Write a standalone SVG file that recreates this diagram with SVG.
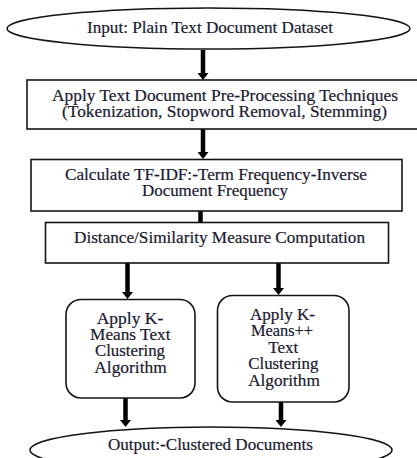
<svg xmlns="http://www.w3.org/2000/svg" width="417" height="458" viewBox="0 0 417 458">
  <style>
    .shape { fill: #ffffff; stroke: #141414; stroke-width: 1.6; }
    .lbl { font-family: "Liberation Serif", "Times New Roman", serif; font-size: 16px; fill: #1a1a30; stroke: #1a1a30; stroke-width: 0.2; text-anchor: middle; }
    .flow { stroke: #000000; stroke-width: 4.5; fill: none; }
  </style>
  <defs>
    <marker id="head" markerUnits="userSpaceOnUse" markerWidth="7" markerHeight="11" viewBox="0 0 7 11" refX="2" refY="5.5" orient="auto">
      <path d="M0,0 L7,5.5 L0,11 z" fill="#000000"/>
    </marker>
  </defs>

  <rect width="417" height="458" fill="#ffffff"/>

  <!-- connectors -->
  <g id="connectors">
    <line class="flow" x1="203" y1="50" x2="203" y2="75" marker-end="url(#head)"/>
    <line class="flow" x1="203" y1="129" x2="203" y2="154" marker-end="url(#head)"/>
    <line class="flow" x1="200.5" y1="211" x2="200.5" y2="222.5"/>
    <line class="flow" x1="127.5" y1="263" x2="127.5" y2="294" marker-end="url(#head)"/>
    <line class="flow" x1="278.5" y1="263" x2="278.5" y2="290" marker-end="url(#head)"/>
    <line class="flow" x1="125.5" y1="398" x2="125.5" y2="422" marker-end="url(#head)"/>
    <line class="flow" x1="281" y1="402" x2="281" y2="422" marker-end="url(#head)"/>
  </g>

  <!-- input terminal -->
  <g id="input">
    <ellipse class="shape" cx="208.5" cy="28.5" rx="201.5" ry="20.5"/>
    <text class="lbl" x="210" y="32.5" textLength="246" lengthAdjust="spacingAndGlyphs">Input: Plain Text Document Dataset</text>
  </g>

  <!-- pre-processing step -->
  <g id="preprocess">
    <rect class="shape" x="27" y="80" width="392" height="49"/>
    <text class="lbl" x="225" y="101" textLength="346" lengthAdjust="spacingAndGlyphs">Apply Text Document Pre-Processing Techniques</text>
    <text class="lbl" x="224.5" y="117" textLength="325" lengthAdjust="spacingAndGlyphs">(Tokenization, Stopword Removal, Stemming)</text>
  </g>

  <!-- TF-IDF step -->
  <g id="tfidf">
    <rect class="shape" x="31" y="159.5" width="371" height="51.5"/>
    <text class="lbl" x="216" y="180" textLength="302" lengthAdjust="spacingAndGlyphs">Calculate TF-IDF:-Term Frequency-Inverse</text>
    <text class="lbl" x="215" y="195.5" textLength="146" lengthAdjust="spacingAndGlyphs">Document Frequency</text>
  </g>

  <!-- similarity step -->
  <g id="similarity">
    <rect class="shape" x="45.5" y="222.5" width="343" height="40.5"/>
    <text class="lbl" x="219.5" y="243" textLength="291" lengthAdjust="spacingAndGlyphs">Distance/Similarity Measure Computation</text>
  </g>

  <!-- K-Means branch -->
  <g id="kmeans">
    <rect class="shape" x="66" y="299.5" width="129" height="98.5" rx="15" ry="15"/>
    <text class="lbl" x="130" y="324" textLength="66.5" lengthAdjust="spacingAndGlyphs">Apply K-</text>
    <text class="lbl" x="130.3" y="340" textLength="80.5" lengthAdjust="spacingAndGlyphs">Means Text</text>
    <text class="lbl" x="130" y="356" textLength="70" lengthAdjust="spacingAndGlyphs">Clustering</text>
    <text class="lbl" x="130.5" y="372.5" textLength="72.4" lengthAdjust="spacingAndGlyphs">Algorithm</text>
  </g>

  <!-- K-Means++ branch -->
  <g id="kmeanspp">
    <rect class="shape" x="217.5" y="295.5" width="131.5" height="106.5" rx="15" ry="15"/>
    <text class="lbl" x="282.5" y="319.5" textLength="65" lengthAdjust="spacingAndGlyphs">Apply K-</text>
    <text class="lbl" x="282" y="336" textLength="62" lengthAdjust="spacingAndGlyphs">Means++</text>
    <text class="lbl" x="283.3" y="352.5" textLength="30" lengthAdjust="spacingAndGlyphs">Text</text>
    <text class="lbl" x="283.3" y="369" textLength="70" lengthAdjust="spacingAndGlyphs">Clustering</text>
    <text class="lbl" x="284" y="386" textLength="71.7" lengthAdjust="spacingAndGlyphs">Algorithm</text>
  </g>

  <!-- output terminal -->
  <g id="output">
    <ellipse class="shape" cx="211" cy="450" rx="181" ry="23"/>
    <text class="lbl" x="210.5" y="449.5" textLength="205" lengthAdjust="spacingAndGlyphs">Output:-Clustered Documents</text>
  </g>
</svg>
